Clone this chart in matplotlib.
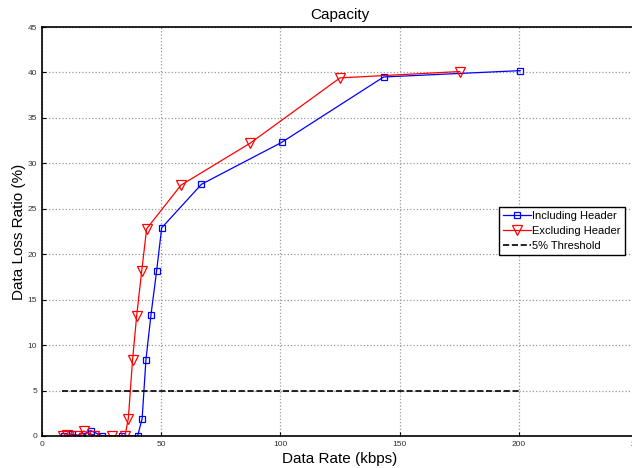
import numpy as np
import matplotlib.pyplot as plt

plt.rcParams['font.family'] = ['Liberation Sans', 'DejaVu Sans']

# data
incl_rate = [9.3, 12.7, 16.9, 20.4, 25.3, 33.4, 40.1, 42.0, 43.6, 45.7, 48.1, 50.2, 66.9, 100.5, 143.3, 200.6]
incl_loss = [0, 0.2, 0, 0.6, 0, 0, 0, 1.9, 8.4, 13.3, 18.2, 22.9, 27.7, 32.3, 39.5, 40.2]

excl_rate = [8.7, 10.3, 14.8, 17.5, 21.8, 29.2, 34.8, 36.2, 38.0, 39.7, 41.8, 43.9, 58.3, 87.2, 125.0, 175.2]
excl_loss = [0, 0.1, 0, 0.55, 0, 0, 0, 1.9, 8.4, 13.2, 18.1, 22.8, 27.6, 32.2, 39.4, 40.1]

thresh_x = [8.4, 200.0]
thresh_y = [5, 5]

xticks = [0, 50, 100, 150, 200, 250]
yticks = [0, 5, 10, 15, 20, 25, 30, 35, 40, 45]

fig = plt.figure(figsize=(6.32, 4.68), dpi=100)
# axes deliberately runs past the right edge, like the reference
ax = fig.add_axes([42 / 632, 32 / 468, 596 / 632, 409 / 468])

ax.plot(incl_rate, incl_loss, color='blue', lw=0.9, marker='s', ms=5,
        mfc='none', mec='blue', mew=0.9, label='Including Header')
ax.plot(excl_rate, excl_loss, color='red', lw=0.9, marker='v', ms=7,
        mfc='none', mec='red', mew=0.9, label='Excluding Header')
ax.plot(thresh_x, thresh_y, 'k--', lw=1.2, label='5% Threshold')

ax.set_xlim(0, 250)
ax.set_ylim(0, 45)
ax.set_xticks(xticks)
ax.set_yticks(yticks)
ax.tick_params(direction='in', labelsize=6, length=3, colors='black', labelcolor='#333333')
ax.grid(True, ls=':', color='#999999', lw=0.9)
for s in ax.spines.values():
    s.set_linewidth(1.2)

ax.set_title('Capacity', fontsize=11, pad=6)
ax.set_xlabel('Data Rate (kbps)', fontsize=11, labelpad=3)
ax.set_ylabel('Data Loss Ratio (%)', fontsize=11, labelpad=1)

leg = ax.legend(loc='upper left', bbox_to_anchor=(499 / 632, 1 - 207 / 468),
                bbox_transform=fig.transFigure, borderaxespad=0, fontsize=8,
                fancybox=False, edgecolor='black', framealpha=1,
                handlelength=2.5, handletextpad=0.15, borderpad=0.35, labelspacing=0.45)
leg.get_frame().set_linewidth(1.0)

fig.savefig('out.png', dpi=100)
